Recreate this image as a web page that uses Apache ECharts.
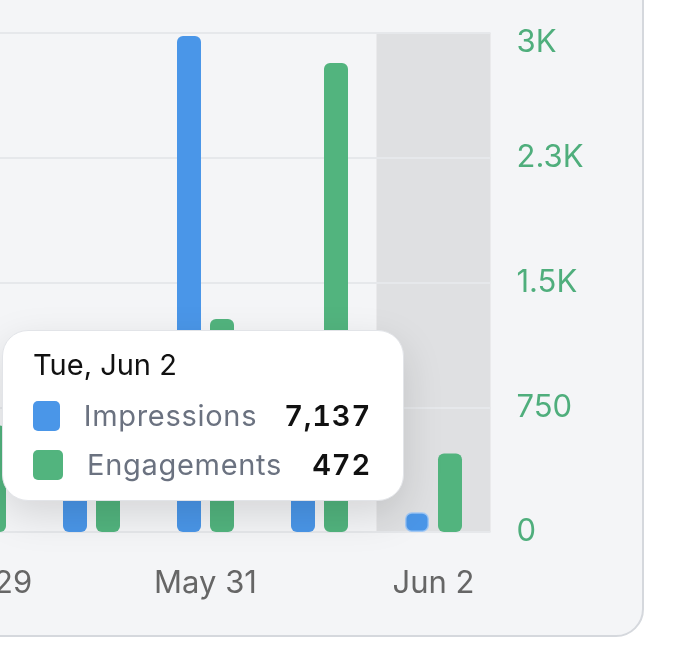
<!DOCTYPE html>
<html>
<head>
<meta charset="utf-8">
<script src="https://cdn.jsdelivr.net/npm/echarts@6/dist/echarts.min.js"></script>
<style>
  html, body { margin:0; padding:0; width:696px; height:654px; overflow:hidden; background:#ffffff; }
  #card { position:absolute; left:-40px; top:-40px; width:684px; height:677px; box-sizing:border-box;
          border:2px solid #d5d8dd; border-radius:28px; background:#f4f5f7; }
  #chart { position:absolute; left:-200px; top:0; width:896px; height:654px; }
</style>
</head>
<body>
<div id="card"></div>
<div id="chart"></div>
<script>
const categories = ['May 29', 'May 30', 'May 31', 'Jun 1', 'Jun 2'];
const fullDates = ['Fri, May 29', 'Sat, May 30', 'Sun, May 31', 'Mon, Jun 1', 'Tue, Jun 2'];
const impressions = [25000, 38000, 178900, 42000, 7137];
const engagements = [640, 520, 1280, 2820, 472];
const seriesNames = ['Impressions', 'Engagements'];
const seriesColors = ['#4a96e8', '#52b47e'];
const activeIndex = 4;

function fmtK(v) {
  if (v >= 1000) return (v / 1000).toFixed(1).replace(/\.0$/, '') + 'K';
  return String(v);
}

const chart = echarts.init(document.getElementById('chart'), null, { renderer: 'canvas' });
const option = {
  animation: false,
  grid: { left: 120.5, right: 205.5, top: 33, bottom: 122, containLabel: false },
  tooltip: {
    trigger: 'axis',
    alwaysShowContent: true,
    transitionDuration: 0,
    showDelay: 0,
    hideDelay: 0,
    axisPointer: { type: 'shadow', z: 1, shadowStyle: { color: '#dfe0e2', opacity: 1 } },
    backgroundColor: '#ffffff',
    borderColor: '#e2e4e8',
    borderWidth: 1.5,
    padding: [16, 32, 11, 30],
    extraCssText: 'border-radius:26px; box-shadow:0 14px 40px rgba(0,0,0,0.13);',
    position: function () { return [202, 330]; },
    formatter: function (params) {
      const idx = params[0].dataIndex;
      let html = '<div style="width:338px;">';
      html += '<div style="font-family:Inter;font-size:29px;font-weight:400;color:#111;line-height:36px;margin-bottom:8px;">' + fullDates[idx] + '</div>';
      params.forEach(function (p) {
        html += '<div style="display:flex;align-items:center;height:49px;font-family:Inter;font-size:29px;">' +
          '<span style="display:inline-block;width:30px;height:30px;border-radius:5px;background:' + seriesColors[p.seriesIndex] + ';margin-right:24px;"></span>' +
          '<span style="color:#6b7280;flex:1;letter-spacing:0.7px;">' + p.seriesName + '</span>' +
          '<span style="color:#111;font-weight:600;font-variant-numeric:tabular-nums;margin-left:27px;letter-spacing:0.8px;">' + Number(p.value).toLocaleString('en-US') + '</span>' +
          '</div>';
      });
      html += '</div>';
      return html;
    }
  },
  xAxis: {
    type: 'category',
    data: categories,
    axisLine: { show: false },
    axisTick: { show: false },
    axisLabel: { interval: 1, color: '#666666', fontFamily: 'Inter', fontSize: 31, margin: 36 }
  },
  yAxis: [
    { type: 'value', position: 'left', min: 0, max: 180000, interval: 45000, show: false, splitLine: { show: false } },
    {
      type: 'value', position: 'right', min: 0, max: 3000, interval: 750, z: 2,
      axisLine: { show: false }, axisTick: { show: false },
      splitLine: { show: true, lineStyle: { color: '#e6e8eb', width: 2 } },
      axisLabel: {
        color: '#4fae7c', fontFamily: 'Inter', fontSize: 31, margin: 26,
        formatter: function (v) { return v === 3000 ? '{top|' + fmtK(v) + '}' : fmtK(v); },
        rich: { top: { color: '#4fae7c', fontFamily: 'Inter', fontSize: 31, padding: [19, 0, 0, 0] } }
      }
    }
  ],
  series: [
    { name: seriesNames[0], type: 'bar', yAxisIndex: 0, z: 3, barWidth: 24, barGap: '37.5%',
      emphasis: { disabled: true },
      data: impressions.map(function (v, i) {
        return i === activeIndex ? { value: v, itemStyle: { borderColor: 'rgba(160,200,245,0.9)', borderWidth: 1.5 } } : v;
      }),
      itemStyle: { color: seriesColors[0], borderRadius: 6 } },
    { name: seriesNames[1], type: 'bar', yAxisIndex: 1, z: 3, data: engagements, barWidth: 24, barGap: '37.5%',
      emphasis: { disabled: true },
      itemStyle: { color: seriesColors[1], borderRadius: 6 } }
  ]
};
chart.setOption(option);
chart.dispatchAction({ type: 'showTip', seriesIndex: 0, dataIndex: activeIndex });
</script>
</body>
</html>
